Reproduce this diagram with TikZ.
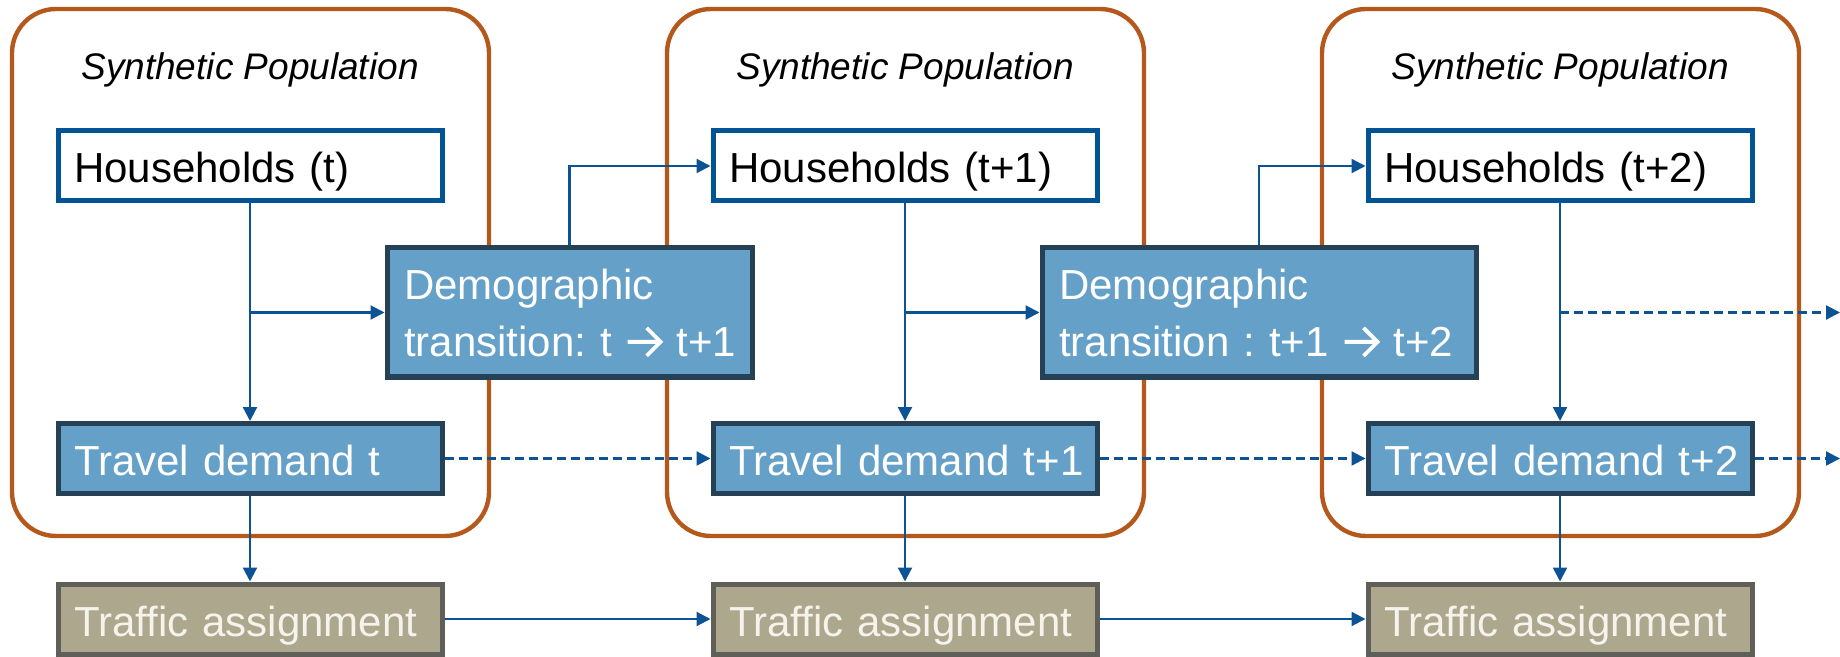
\documentclass[tikz,border=0pt]{standalone}
\usepackage{fontspec}
\setmainfont{Liberation Sans}
\usetikzlibrary{arrows.meta}
\definecolor{popframe}{RGB}{180,88,28}
\definecolor{hhblue}{RGB}{0,84,147}
\definecolor{demfill}{RGB}{101,160,200}
\definecolor{demline}{RGB}{38,64,86}
\definecolor{trafill}{RGB}{173,167,142}
\definecolor{traline}{RGB}{95,94,88}
\definecolor{arrblue}{RGB}{12,83,150}
% open-headed arrow set inside the transition labels
\newcommand{\steparrow}{\tikz[baseline=0pt,x=1pt,y=1pt]{\draw[line width=1.9pt,color=white,line cap=butt,line join=miter]
  (0.5,7.3) -- (17,7.3) (10,14.3) -- (17,7.3) -- (10,0.3);}}
\begin{document}
\begin{tikzpicture}[x=0.5pt,y=-0.5pt,
  popbox/.style={draw=popframe, line width=2.2pt, rounded corners=22pt,
    minimum width=238.5pt, minimum height=263.5pt, inner sep=0pt},
  poptitle/.style={font=\fontsize{18.5}{22}\selectfont\itshape, anchor=base, inner sep=0pt},
  lbl/.style={font=\fontsize{21}{28.5}\selectfont\frenchspacing, text width=176pt, align=left,
    inner xsep=8pt, inner ysep=0pt, text height=21pt, text depth=4pt, minimum height=35pt},
  hhbox/.style={lbl, draw=hhblue, line width=2.5pt, fill=white, text=black},
  tdbox/.style={lbl, draw=demline, line width=2.5pt, fill=demfill, text=white},
  trabox/.style={lbl, draw=traline, line width=2.5pt, fill=trafill, text={rgb,255:red,245;green,243;blue,236}},
  dembox/.style={lbl, draw=demline, line width=2.5pt, fill=demfill, text=white,
    inner xsep=8.5pt, minimum height=64.5pt, text height=20pt, text depth=33pt},
  arr/.style={draw=arrblue, line width=1.1pt, -{Triangle[length=7pt,width=7pt]}},
  darr/.style={arr, dash pattern=on 4.5pt off 2.5pt}]
\useasboundingbox (0,0) rectangle (1840,657);

% population frames
\node[popbox] (pop1) at (250.5,272.5) {};
\node[popbox] (pop2) at (905.5,272.5) {};
\node[popbox] (pop3) at (1560.5,272.5) {};
\node[poptitle] (ttl1) at (250,80) {Synthetic Population};
\node[poptitle] (ttl2) at (905,80) {Synthetic Population};
\node[poptitle] (ttl3) at (1560,80) {Synthetic Population};

% households
\node[hhbox] (hh1) at (250,166) {\mbox{Households (t)}};
\node[hhbox] (hh2) at (905,166) {\mbox{Households (t+1)}};
\node[hhbox] (hh3) at (1560,166) {\mbox{Households (t+2)}};

% demographic transitions
\node[dembox, text width=165.5pt] (dem1) at (569.5,312.5)
  {\mbox{Demographic}\\\mbox{transition: t \steparrow\ t+1}};
\node[dembox, text width=200pt] (dem2) at (1259,312.5)
  {\mbox{Demographic}\\\mbox{transition : t+1 \steparrow\ t+2}};

% travel demand
\node[tdbox] (td1) at (250,458.5) {\mbox{Travel demand t}};
\node[tdbox] (td2) at (905,458.5) {\mbox{Travel demand t+1}};
\node[tdbox] (td3) at (1560,458.5) {\mbox{Travel demand t+2}};

% traffic assignment
\node[trabox] (ta1) at (250,619) {\mbox{Traffic assignment}};
\node[trabox] (ta2) at (905,619) {\mbox{Traffic assignment}};
\node[trabox] (ta3) at (1560,619) {\mbox{Traffic assignment}};

\coordinate (outA) at (1840,312.5);
\coordinate (outB) at (1840,458.5);

% households -> travel demand, with branch to the transition
\draw[arr] (hh1.south) -- (td1.north);
\draw[arr] (hh2.south) -- (td2.north);
\draw[arr] (hh3.south) -- (td3.north);
\draw[arr] (hh1.south |- dem1.west) -- (dem1.west);
\draw[arr] (hh2.south |- dem2.west) -- (dem2.west);
\draw[darr] (hh3.south |- outA) -- (outA);

% transition -> next households
\draw[arr] (dem1.north) |- (hh2.west);
\draw[arr] (dem2.north) |- (hh3.west);

% travel demand chain
\draw[darr] (td1.east) -- (td2.west);
\draw[darr] (td2.east) -- (td3.west);
\draw[darr] (td3.east) -- (outB);

% travel demand -> traffic assignment
\draw[arr] (td1.south) -- (ta1.north);
\draw[arr] (td2.south) -- (ta2.north);
\draw[arr] (td3.south) -- (ta3.north);

% traffic assignment chain
\draw[arr] (ta1.east) -- (ta2.west);
\draw[arr] (ta2.east) -- (ta3.west);
\end{tikzpicture}
\end{document}
